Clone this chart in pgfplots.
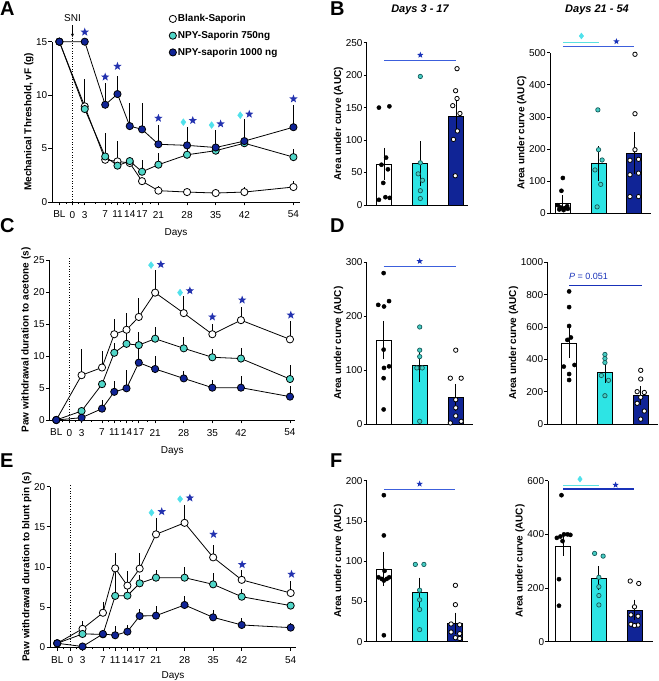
\documentclass[border=0pt]{standalone}
\usepackage{pgfplots}
\pgfplotsset{compat=1.18}
\usepackage{pgfplotstable}
\usepackage{fontspec}
\setmainfont{Liberation Sans}
\usetikzlibrary{arrows.meta}
\definecolor{nblue}{RGB}{16,36,150}
\definecolor{lcyan}{RGB}{80,214,200}
\definecolor{bcyan}{RGB}{45,228,228}
\definecolor{dcyan}{RGB}{70,205,195}
\definecolor{cedge}{RGB}{20,90,90}
\definecolor{starblue}{RGB}{35,50,175}
\definecolor{diacyan}{RGB}{80,225,235}
\definecolor{sigblue}{RGB}{60,95,220}
\definecolor{sigdark}{RGB}{25,50,185}
\definecolor{sigcyan}{RGB}{90,225,225}

\pgfdeclareplotmark{fstar}{%
  \pgfpathmoveto{\pgfpointpolar{90}{\pgfplotmarksize}}%
  \pgfpathlineto{\pgfpointpolar{126}{0.42\pgfplotmarksize}}%
  \pgfpathlineto{\pgfpointpolar{162}{\pgfplotmarksize}}%
  \pgfpathlineto{\pgfpointpolar{198}{0.42\pgfplotmarksize}}%
  \pgfpathlineto{\pgfpointpolar{234}{\pgfplotmarksize}}%
  \pgfpathlineto{\pgfpointpolar{270}{0.42\pgfplotmarksize}}%
  \pgfpathlineto{\pgfpointpolar{306}{\pgfplotmarksize}}%
  \pgfpathlineto{\pgfpointpolar{342}{0.42\pgfplotmarksize}}%
  \pgfpathlineto{\pgfpointpolar{18}{\pgfplotmarksize}}%
  \pgfpathlineto{\pgfpointpolar{54}{0.42\pgfplotmarksize}}%
  \pgfpathclose\pgfusepathqfill}

\pgfplotstableread{
x w we c ce b be
-3.2 15 0 15 0 15 0
3 8.95 2.6 8.7 0.3 15 0
8 3.95 0.3 4.26 2.2 9.1 2.0
11 3.8 1.9 3.4 0.4 10.1 1.7
14 3.65 0.3 3.83 0.4 7.1 2.14
17 1.95 0.2 2.83 1.1 6.8 2.44
21 1.06 0.4 3.49 1.1 5.4 1.8
28 0.93 0.2 4.42 0.5 5.3 1.76
35 0.84 0.2 4.8 0.4 5.1 1.65
42 0.93 0.5 5.5 0.4 5.7 2.08
54 1.4 0.6 4.2 0.75 7.0 2.09
}\dataA
\pgfplotstableread{
x w we c ce b be
-3.2 0 0 0 0 0 0
3 7.0 4.1 1.4 0.5 0.36 0.4
8 8.2 2.6 5.6 0.5 1.77 1.3
11 13.4 2.4 10.5 1.5 4.4 1.7
14 14.1 2.6 11.9 1.9 4.95 2.85
17 16.1 3.0 11.7 2.1 8.96 2.6
21 19.9 3.5 12.7 1.9 7.97 2.1
28 16.7 2.6 11.2 1.8 6.5 1.2
35 13.4 1.65 9.8 1.3 5.05 1.2
42 15.6 2.05 9.6 1.6 5.05 1.85
54 12.6 2.8 6.4 2.2 3.65 1.65
}\dataC
\pgfplotstableread{
x w we c ce b be
-3.2 0.5 0 0.5 0 0.5 0
3 2.3 1.0 1.66 0.3 0.1 0.1
8 4.3 1.4 1.62 0.4 1.66 0.3
11 9.83 1.9 6.4 3.1 1.5 1.1
14 7.68 1.8 6.43 1.0 1.95 0.85
17 9.8 1.9 7.97 1.0 3.9 0.9
21 14.07 2.0 8.67 1.0 3.94 1.16
28 15.5 2.2 8.67 1.3 5.27 1.16
35 11.2 1.6 7.84 1.4 3.73 0.92
42 8.4 1.2 6.3 1.0 2.78 0.82
54 6.76 1.5 5.19 0.5 2.45 0.55
}\dataE

\pgfplotsset{
  lineax/.style={scale only axis, anchor=south west, axis x line*=bottom, axis y line*=left, clip=false,
    xtick={-3.2,0,3,8,11,14,17,21,28,35,42,54},
    xticklabels={BL,0,3,7,11,14,17,21,28,35,42,54},
    minor xtick={-1.6,1.5,5.5,9.5,12.5,15.5,19},
    tick align=outside, major tick length=3.5pt, minor tick length=2pt,
    tick style={black,line width=0.8pt},
    axis line style={line width=0.8pt},
    xlabel={Days}, ymin=0,
    tick label style={font=\fontsize{10}{12}\selectfont},
    yticklabel style={inner sep=1pt},
    xticklabel style={yshift=-2pt},
    /pgf/number format/assume math mode=true,
    ylabel style={font=\bfseries\fontsize{10}{12}\selectfont, inner sep=1.5pt},
    xlabel style={font=\fontsize{10}{12}\selectfont, yshift=-4pt},
  },
  barax/.style={scale only axis, anchor=south west, axis x line*=bottom, axis y line*=left, clip=false,
    xtick=\empty, ymin=0,
    tick align=outside, major tick length=3pt,
    tick style={black,line width=0.8pt},
    axis line style={line width=0.8pt},
    tick label style={font=\fontsize{10}{12}\selectfont},
    yticklabel style={inner sep=1pt},
    /pgf/number format/assume math mode=true,
    /pgf/number format/1000 sep={},
    ylabel={Area under curve (AUC)},
    ylabel style={font=\bfseries\fontsize{10}{12}\selectfont, inner sep=1.5pt},
  },
  wser/.style={black, line width=0.8pt, mark=*, mark size=3.6pt, mark options={fill=white, draw=black, line width=0.8pt}},
  cser/.style={black, line width=0.8pt, mark=*, mark size=3.6pt, mark options={fill=lcyan, draw=black, line width=0.8pt}},
  bser/.style={black, line width=0.8pt, mark=*, mark size=3.6pt, mark options={fill=nblue, draw=black, line width=0.8pt}},
  errp/.style={draw=none, mark=none, forget plot, error bars/.cd, y dir=plus, y explicit, error mark=none, error bar style={draw=black,line width=0.8pt}},
  stars/.style={only marks, mark=fstar, mark size=4.4pt, color=starblue, forget plot},
  dias/.style={only marks, mark=diamond*, mark size=3.4pt, color=diacyan, forget plot},
  barw/.style={ybar, bar width=15pt, bar shift=0pt, fill=white, draw=black, line width=0.8pt},
  barc/.style={ybar, bar width=15pt, bar shift=0pt, fill=bcyan, draw=black, line width=0.8pt},
  barb/.style={ybar, bar width=15pt, bar shift=0pt, fill=nblue, draw=black, line width=0.8pt},
  errb/.style={draw=none, mark=none, error bars/.cd, y dir=both, y explicit, error bar style={draw=black,line width=0.8pt}, error mark options={black, mark size=4pt, line width=0.8pt}},
  dotk/.style={only marks, mark=*, mark size=2.1pt, mark options={fill=black, draw=black}},
  dotc/.style={only marks, mark=*, mark size=2.2pt, mark options={fill=dcyan, draw=cedge, line width=0.7pt}},
  doto/.style={only marks, mark=*, mark size=2.2pt, mark options={fill=white, draw=black, line width=0.8pt}},
  sigl/.style={line width=1.1pt, mark=none},
}

\begin{document}
\begin{tikzpicture}[x=1pt,y=1pt]
\path[use as bounding box] (0,0) rectangle (659,681);
% panel letters and titles
\node[anchor=base west, inner sep=0, font=\bfseries\fontsize{20}{20}\selectfont] at (0,665) {A};
\node[anchor=base west, inner sep=0, font=\bfseries\fontsize{20}{20}\selectfont] at (330,665) {B};
\node[anchor=base west, inner sep=0, font=\bfseries\fontsize{20}{20}\selectfont] at (0,448) {C};
\node[anchor=base west, inner sep=0, font=\bfseries\fontsize{20}{20}\selectfont] at (330,448) {D};
\node[anchor=base west, inner sep=0, font=\bfseries\fontsize{20}{20}\selectfont] at (0,213) {E};
\node[anchor=base west, inner sep=0, font=\bfseries\fontsize{20}{20}\selectfont] at (330,213) {F};
\node[font=\bfseries\itshape\fontsize{11}{12}\selectfont] at (420,671) {Days 3 - 17};
\node[font=\bfseries\itshape\fontsize{11}{12}\selectfont] at (597,671) {Days 21 - 54};

% ---------------- A
\begin{axis}[lineax, at={(52pt,479pt)}, width=248pt, height=160.3pt, xmin=-5, xmax=55.6, ymax=15,
  ytick={0,5,10,15}, ylabel={Mechanical Threshold, vF (g)},
  legend style={at={(axis cs:23.6,17.7)}, anchor=north west, draw=none, fill=none, inner sep=0pt,
    row sep=5pt, font=\bfseries\fontsize{10}{12}\selectfont, nodes={inner sep=1.5pt}},
  legend cell align=left]
\addplot[black, dotted, line width=0.6pt, forget plot] coordinates {(0,0) (0,15.45)};
\addplot[errp] table[x=x,y=w,y error=we]{\dataA};
\addplot[errp] table[x=x,y=c,y error=ce]{\dataA};
\addplot[errp] table[x=x,y=b,y error=be]{\dataA};
\addplot[wser, forget plot] table[x=x,y=w]{\dataA};
\addplot[cser, forget plot] table[x=x,y=c]{\dataA};
\addplot[bser, forget plot] table[x=x,y=b]{\dataA};
\addplot[stars] coordinates {(3,15.9) (8,11.7) (11,12.7) (21,7.84) (29.4,7.63) (36.2,7.31) (43.2,8.22) (54,9.65)};
\addplot[dias] coordinates {(27.1,7.47) (34.0,7.2) (41.0,8.12)};
\addlegendimage{only marks, mark=*, mark size=3.6pt, mark options={fill=white,draw=black,line width=0.8pt}}
\addlegendentry{Blank-Saporin}
\addlegendimage{only marks, mark=*, mark size=3.6pt, mark options={fill=lcyan,draw=black,line width=0.8pt}}
\addlegendentry{NPY-Saporin 750ng}
\addlegendimage{only marks, mark=*, mark size=3.6pt, mark options={fill=nblue,draw=black,line width=0.8pt}}
\addlegendentry{NPY-saporin 1000 ng}
\node[font=\fontsize{10}{12}\selectfont] at (axis cs:0,17.2) {SNI};
\draw[-{Stealth[length=3.5pt,width=3pt]}, line width=0.6pt] (axis cs:0,16.56) -- (axis cs:0,15.43);
\end{axis}

% ---------------- C
\begin{axis}[lineax, at={(49.3pt,261pt)}, width=246pt, height=160pt, xmin=-4.9, xmax=55.3, ymax=25,
  ytick={0,5,...,25}, ylabel={Paw withdrawal duration to acetone (s)}]
\addplot[black, dotted, line width=0.6pt, forget plot] coordinates {(0,0) (0,25.3)};
\addplot[errp] table[x=x,y=w,y error=we]{\dataC};
\addplot[errp] table[x=x,y=c,y error=ce]{\dataC};
\addplot[errp] table[x=x,y=b,y error=be]{\dataC};
\addplot[wser, forget plot] table[x=x,y=w]{\dataC};
\addplot[cser, forget plot] table[x=x,y=c]{\dataC};
\addplot[bser, forget plot] table[x=x,y=b]{\dataC};
\addplot[stars] coordinates {(22.4,24.3) (29.5,20.2) (35,16.1) (42.3,18.75) (54.2,16.4)};
\addplot[dias] coordinates {(20.0,24.2) (27.1,19.9)};
\end{axis}

% ---------------- E
\begin{axis}[lineax, at={(50pt,33.7pt)}, width=246pt, height=160.6pt, xmin=-4.97, xmax=55.3, ymax=20,
  ytick={0,5,...,20}, ylabel={Paw withdrawal duration to blunt pin (s)},
  xlabel style={yshift=3pt}]
\addplot[black, dotted, line width=0.6pt, forget plot] coordinates {(0,0) (0,20.2)};
\addplot[errp] table[x=x,y=w,y error=we]{\dataE};
\addplot[errp] table[x=x,y=c,y error=ce]{\dataE};
\addplot[errp] table[x=x,y=b,y error=be]{\dataE};
\addplot[wser, forget plot] table[x=x,y=w]{\dataE};
\addplot[cser, forget plot] table[x=x,y=c]{\dataE};
\addplot[bser, forget plot] table[x=x,y=b]{\dataE};
\addplot[stars] coordinates {(22.4,16.9) (29.3,18.6) (35.1,14.07) (42.1,10.3) (54.2,9.1)};
\addplot[dias] coordinates {(19.9,16.76) (26.9,18.46)};
\end{axis}

% ---------------- B1
\begin{axis}[barax, at={(366.7pt,476pt)}, width=101.5pt, height=162.3pt, xmin=-0.49, xmax=2.33, ymax=250, ytick={0,50,...,250}]
\addplot[barw] coordinates {(0,63)};
\addplot[barc] coordinates {(1,64)};
\addplot[barb] coordinates {(2,136)};
\addplot[errb] coordinates {(0,63) +- (0,19) (1,64) +- (0,28) (2,136) +- (0,18)};
\addplot[dotk] coordinates {(-0.15,150) (0.14,152) (0.05,73) (-0.08,62) (0.1,55) (-0.03,34) (-0.15,8) (0.03,12) (0.15,11)};
\addplot[dotc] coordinates {(1,198) (1,65) (0.94,48) (1.06,38) (1,22) (1,10)};
\addplot[doto] coordinates {(2.02,210) (1.98,176) (2.02,164) (1.9,153) (2.1,141) (2.03,114) (1.92,101) (1.97,45)};
\addplot[sigl, sigblue] coordinates {(0,222) (2,222)};
\addplot[only marks, mark=fstar, mark size=3.3pt, color=sigdark] coordinates {(1,231)};
\end{axis}

% ---------------- B2
\begin{axis}[barax, at={(550pt,467.7pt)}, width=101.4pt, height=160.6pt, xmin=-0.36, xmax=2.48, ymax=500, ytick={0,100,...,500}]
\addplot[barw] coordinates {(0,32)};
\addplot[barc] coordinates {(1,155)};
\addplot[barb] coordinates {(2,188)};
\addplot[errb] coordinates {(0,32) +- (0,12) (1,155) +- (0,41) (2,188) +- (0,52)};
\addplot[dotk] coordinates {(0,110) (-0.04,70) (-0.14,25) (0.12,22) (-0.06,18) (0.05,16) (0.14,14) (-0.1,12) (0.02,10)};
\addplot[dotc] coordinates {(0.98,322) (1,198) (1.1,166) (0.9,135) (1.06,90) (0.96,20)};
\addplot[doto] coordinates {(2.02,495) (2.02,310) (2.02,198) (1.88,165) (2.12,168) (1.88,120) (2.12,125) (1.88,52) (2.12,52)};
\addplot[sigl, sigcyan] coordinates {(0,532) (1,532)};
\addplot[sigl, sigblue] coordinates {(0,519) (2,519)};
\addplot[only marks, mark=diamond*, mark size=3pt, color=diacyan] coordinates {(0.52,552)};
\addplot[only marks, mark=fstar, mark size=3.3pt, color=sigdark] coordinates {(1.5,535)};
\end{axis}

% ---------------- D1
\begin{axis}[barax, at={(366.7pt,257pt)}, width=106pt, height=161.7pt, xmin=-0.47, xmax=2.47, ymax=300, ytick={0,100,200,300}]
\addplot[barw] coordinates {(0,156)};
\addplot[barc] coordinates {(1,109)};
\addplot[barb] coordinates {(2,49)};
\addplot[errb] coordinates {(0,156) +- (0,28) (1,109) +- (0,24) (2,49) +- (0,18)};
\addplot[dotk] coordinates {(0,280) (0.15,228) (-0.15,221) (0.01,218) (0,138) (0.15,107) (0.01,104) (0,85) (0,27)};
\addplot[dotc] coordinates {(1,180) (1,137) (1,125) (0.92,104) (1.07,104) (1,5)};
\addplot[doto] coordinates {(2,137) (1.85,85) (2.15,85) (2,45) (2,30) (2,15) (1.85,2) (2.15,5)};
\addplot[sigl, sigblue] coordinates {(0,293) (2,293)};
\addplot[only marks, mark=fstar, mark size=3.3pt, color=sigdark] coordinates {(1,302)};
\end{axis}

% ---------------- D2
\begin{axis}[barax, at={(547.3pt,257pt)}, width=110.6pt, height=161.7pt, xmin=-0.61, xmax=2.48, ymax=1000, ytick={0,200,...,1000}]
\addplot[barw] coordinates {(0,500)};
\addplot[barc] coordinates {(1,318)};
\addplot[barb] coordinates {(2,176)};
\addplot[errb] coordinates {(0,500) +- (0,66) (1,318) +- (0,37) (2,176) +- (0,34)};
\addplot[dotk] coordinates {(0,820) (0,723) (0,606) (0.05,535) (-0.05,520) (0.15,365) (-0.15,355) (0,309) (0,272)};
\addplot[dotc] coordinates {(1,430) (1,405) (1,380) (0.9,300) (1.1,270) (1,175)};
\addplot[doto] coordinates {(2,332) (2,278) (1.9,200) (2.1,195) (2,165) (1.9,128) (2.1,80) (2,30)};
\addplot[sigl, sigdark] coordinates {(0,856) (2.03,856)};
\node[font=\fontsize{9}{10}\selectfont, text=sigdark] at (axis cs:0.54,915) {\textit{P} = 0.051};
\end{axis}

% ---------------- F1
\begin{axis}[barax, at={(366.7pt,39.3pt)}, width=101.2pt, height=161pt, xmin=-0.48, xmax=2.35, ymax=200, ytick={0,50,...,200}]
\addplot[barw] coordinates {(0,90)};
\addplot[barc] coordinates {(1,61)};
\addplot[barb] coordinates {(2,23)};
\addplot[errb] coordinates {(0,90) +- (0,16) (1,61) +- (0,13.5) (2,23) +- (0,8)};
\addplot[dotk] coordinates {(0,182) (0,132) (0.02,88) (-0.15,80) (0.15,80) (-0.06,78) (0.08,78) (0,76) (0,8)};
\addplot[dotc] coordinates {(0.88,96) (1.12,96) (1,64) (1,52) (1,40) (1,15)};
\addplot[doto] coordinates {(2,70) (2,46) (1.88,22) (2.12,21) (1.88,12) (2.12,10) (2,5) (2.12,4)};
\addplot[sigl, sigblue] coordinates {(0,189.6) (2,189.6)};
\addplot[only marks, mark=fstar, mark size=3.3pt, color=sigdark] coordinates {(1,196)};
\end{axis}

% ---------------- F2
\begin{axis}[barax, at={(548.3pt,39.3pt)}, width=104.7pt, height=161pt, xmin=-0.42, xmax=2.52, ymax=600, ytick={0,200,400,600}]
\addplot[barw] coordinates {(0,357)};
\addplot[barc] coordinates {(1,237)};
\addplot[barb] coordinates {(2,118)};
\addplot[errb] coordinates {(0,357) +- (0,22) (1,237) +- (0,30) (2,118) +- (0,24)};
\addplot[dotk] coordinates {(-0.05,546) (-0.18,387) (-0.08,392) (0.02,400) (0.12,400) (0.2,398) (-0.02,375) (-0.12,233) (-0.12,134)};
\addplot[dotc] coordinates {(0.88,329) (1.12,319) (1,240) (1,205) (1,172) (1,137)};
\addplot[doto] coordinates {(1.88,226) (2.12,217) (2,130) (1.9,100) (2.1,95) (1.9,65) (2.1,62) (2,60)};
\addplot[sigl, sigcyan] coordinates {(0,582.6) (1,582.6)};
\addplot[sigl, sigdark] coordinates {(0,569) (2,569)};
\addplot[only marks, mark=diamond*, mark size=3pt, color=diacyan] coordinates {(0.47,606)};
\addplot[only marks, mark=fstar, mark size=3.3pt, color=sigdark] coordinates {(1.47,584)};
\end{axis}
\end{tikzpicture}
\end{document}
